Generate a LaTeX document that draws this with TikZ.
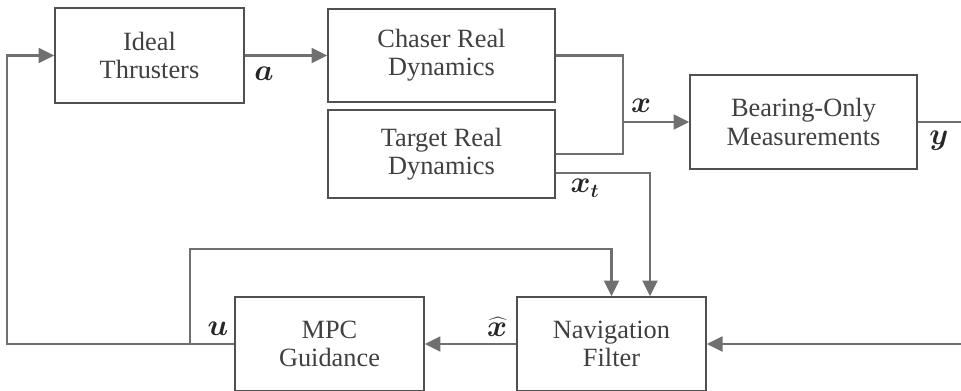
\documentclass[tikz,border=0pt]{standalone}
\usepackage{fontspec}
\setmainfont{Liberation Serif}
\usepackage{bm}
\definecolor{LineGray}{RGB}{112,112,112}
\definecolor{EdgeGray}{RGB}{80,80,80}
\definecolor{TextGray}{RGB}{64,64,64}
\usetikzlibrary{arrows.meta,calc}

\begin{document}
\begin{tikzpicture}[x=0.02cm,y=-0.02cm,
  box/.style={draw=EdgeGray,line width=0.8pt,fill=white,
              minimum width=3.78cm,minimum height=1.88cm,
              align=center,text=TextGray,
              font=\fontsize{15}{16}\selectfont},
  sig/.style={LineGray,line width=1.2pt},
  arr/.style={sig,-{Triangle[length=9pt,width=8.5pt]}},
  lbl/.style={font=\fontsize{16}{18}\selectfont,text=black!85}]
  \clip (0,0) rectangle (961,390);
  \node[box,minimum height=1.9cm] (thr) at (149.5,55.5) {Ideal\\Thrusters};
  \node[box,minimum width=4.54cm,minimum height=1.86cm]
        (chs) at (441.5,55.5) {Chaser Real\\Dynamics};
  \node[box,minimum width=4.54cm,minimum height=1.76cm]
        (tgt) at (441.5,154) {Target Real\\Dynamics};
  \node[box,minimum width=4.54cm] (brg) at (803.5,122) {Bearing-Only\\Measurements};
  \node[box] (mpc) at (329.5,344) {MPC\\Guidance};
  \node[box] (nav) at (611.5,344) {Navigation\\Filter};
  \coordinate (jx) at (623,122);
  \coordinate (yout) at (961,122);
  \coordinate (fb) at (961,344);
  \coordinate (lft) at (7,344);
  \coordinate (br) at (190,344);
  \draw[arr](thr.east)--(chs.west);
  \draw[sig](chs.east)-|(jx);
  \draw[sig](tgt.east)-|(jx);
  \draw[arr](jx)--(brg.west);
  \draw[sig](brg.east)--(yout);
  \draw[arr]($(tgt.east)+(0,19)$)-|($(nav.north)+(38.5,0)$);
  \draw[arr](fb)--(nav.east);
  \draw[arr](nav.west)--(mpc.east);
  \draw[arr](mpc.west)--(lft)|-(thr.west);
  \draw[arr](br)--+(0,-95)-|(nav.north);
  \node[lbl] (la) at (264,74) {$\bm{a}$};
  \node[lbl] (lx) at (641,106) {$\bm{x}$};
  \node[lbl] (lxt) at (585,188) {$\bm{x_t}$};
  \node[lbl] (ly) at (939,141) {$\bm{y}$};
  \node[lbl] (lu) at (218,329) {$\bm{u}$};
  \node[lbl,inner sep=1pt] (lxh) at (497,327) {$\bm{\widehat{x}}$};
\end{tikzpicture}
\end{document}
